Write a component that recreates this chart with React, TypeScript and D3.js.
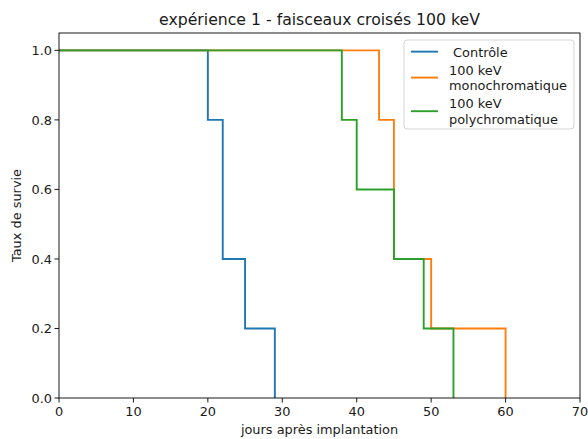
import * as d3 from "d3";

// survival curves (step "post"), days vs survival fraction
const controlDays = [0, 20, 22, 25, 29];
const controlSurv = [1.0, 0.8, 0.4, 0.2, 0.0];
const monoDays = [0, 43, 45, 50, 60];
const monoSurv = [1.0, 0.8, 0.4, 0.2, 0.0];
const polyDays = [0, 38, 40, 45, 49, 53];
const polySurv = [1.0, 0.8, 0.6, 0.4, 0.2, 0.0];

const seriesNames = [" Contrôle", "100 keV\nmonochromatique", "100 keV\npolychromatique"];
const seriesColors = ["#1f77b4", "#ff7f0e", "#2ca02c"];
const xTicks = [0, 10, 20, 30, 40, 50, 60, 70];
const yTicks = [0, 0.2, 0.4, 0.6, 0.8, 1.0];

const W = 588;
const H = 439;
const margin = { left: 59, right: 8, top: 33, bottom: 41 };
const font = "DejaVu Sans, sans-serif";
const fs = 12.9;

export default function App() {
  const x = d3.scaleLinear().domain([0, 70]).range([margin.left, W - margin.right]);
  const y = d3.scaleLinear().domain([0, 1.05]).range([H - margin.bottom, margin.top]);

  const line = d3
    .line<[number, number]>()
    .x((d) => x(d[0]))
    .y((d) => y(d[1]))
    .curve(d3.curveStepAfter);

  const series = [
    controlDays.map((d, i) => [d, controlSurv[i]] as [number, number]),
    monoDays.map((d, i) => [d, monoSurv[i]] as [number, number]),
    polyDays.map((d, i) => [d, polySurv[i]] as [number, number]),
  ];

  const [x0, x1] = x.range();
  const [y0, y1] = y.range();

  // legend layout
  const lgX = 404;
  const lgY = 40;
  const lineH = 15.3;
  let cy = lgY + 11;
  const legendRows = seriesNames.map((name, i) => {
    const parts = name.split("\n");
    const h = parts.length * lineH;
    const row = { parts, top: cy - 6, mid: cy - 6 + h / 2 - 1, color: seriesColors[i] };
    cy += h + 3;
    return row;
  });

  return (
    <svg width={W} height={H} style={{ position: "absolute", left: 0, top: 0, background: "#fff" }} fontFamily={font}>
      <rect x={0} y={0} width={W} height={H} fill="#fff" />
      <text x={(x0 + x1) / 2} y={25} textAnchor="middle" fontSize={15.7} fill="#1a1a1a">
        expérience 1 - faisceaux croisés 100 keV
      </text>

      <defs>
        <clipPath id="plot-area">
          <rect x={x0} y={y1} width={x1 - x0} height={y0 - y1} />
        </clipPath>
      </defs>

      <g clipPath="url(#plot-area)">
        {series.map((s, i) => (
          <path key={i} d={line(s) ?? ""} fill="none" stroke={seriesColors[i]} strokeWidth={1.9} />
        ))}
      </g>

      <rect x={x0} y={y1} width={x1 - x0} height={y0 - y1} fill="none" stroke="#000" strokeWidth={0.9} />

      {xTicks.map((t) => (
        <g key={t}>
          <line x1={x(t)} x2={x(t)} y1={y0} y2={y0 + 4.5} stroke="#000" strokeWidth={0.9} />
          <text x={x(t)} y={y0 + 18} textAnchor="middle" fontSize={fs} fill="#1a1a1a">
            {t}
          </text>
        </g>
      ))}
      {yTicks.map((t) => (
        <g key={t}>
          <line x1={x0} x2={x0 - 4.5} y1={y(t)} y2={y(t)} stroke="#000" strokeWidth={0.9} />
          <text x={x0 - 7} y={y(t) + 4.6} textAnchor="end" fontSize={fs} fill="#1a1a1a">
            {t.toFixed(1)}
          </text>
        </g>
      ))}

      <text x={(x0 + x1) / 2} y={434} textAnchor="middle" fontSize={fs} fill="#1a1a1a">
        jours après implantation
      </text>
      <text
        transform={`translate(21,${(y0 + y1) / 2}) rotate(-90)`}
        textAnchor="middle"
        fontSize={fs}
        fill="#1a1a1a"
      >
        Taux de survie
      </text>

      <rect x={lgX} y={lgY} width={170} height={89} rx={3} fill="#fff" fillOpacity={0.8} stroke="#d0d0d0" strokeWidth={0.9} />
      {legendRows.map((r, i) => (
        <g key={i}>
          <line x1={411} x2={438} y1={r.mid} y2={r.mid} stroke={r.color} strokeWidth={1.9} />
          {r.parts.map((p, j) => (
            <text key={j} x={449} y={r.top + lineH * j + 11.5} fontSize={fs} fill="#1a1a1a" style={{ whiteSpace: "pre" }}>
              {p}
            </text>
          ))}
        </g>
      ))}
    </svg>
  );
}
